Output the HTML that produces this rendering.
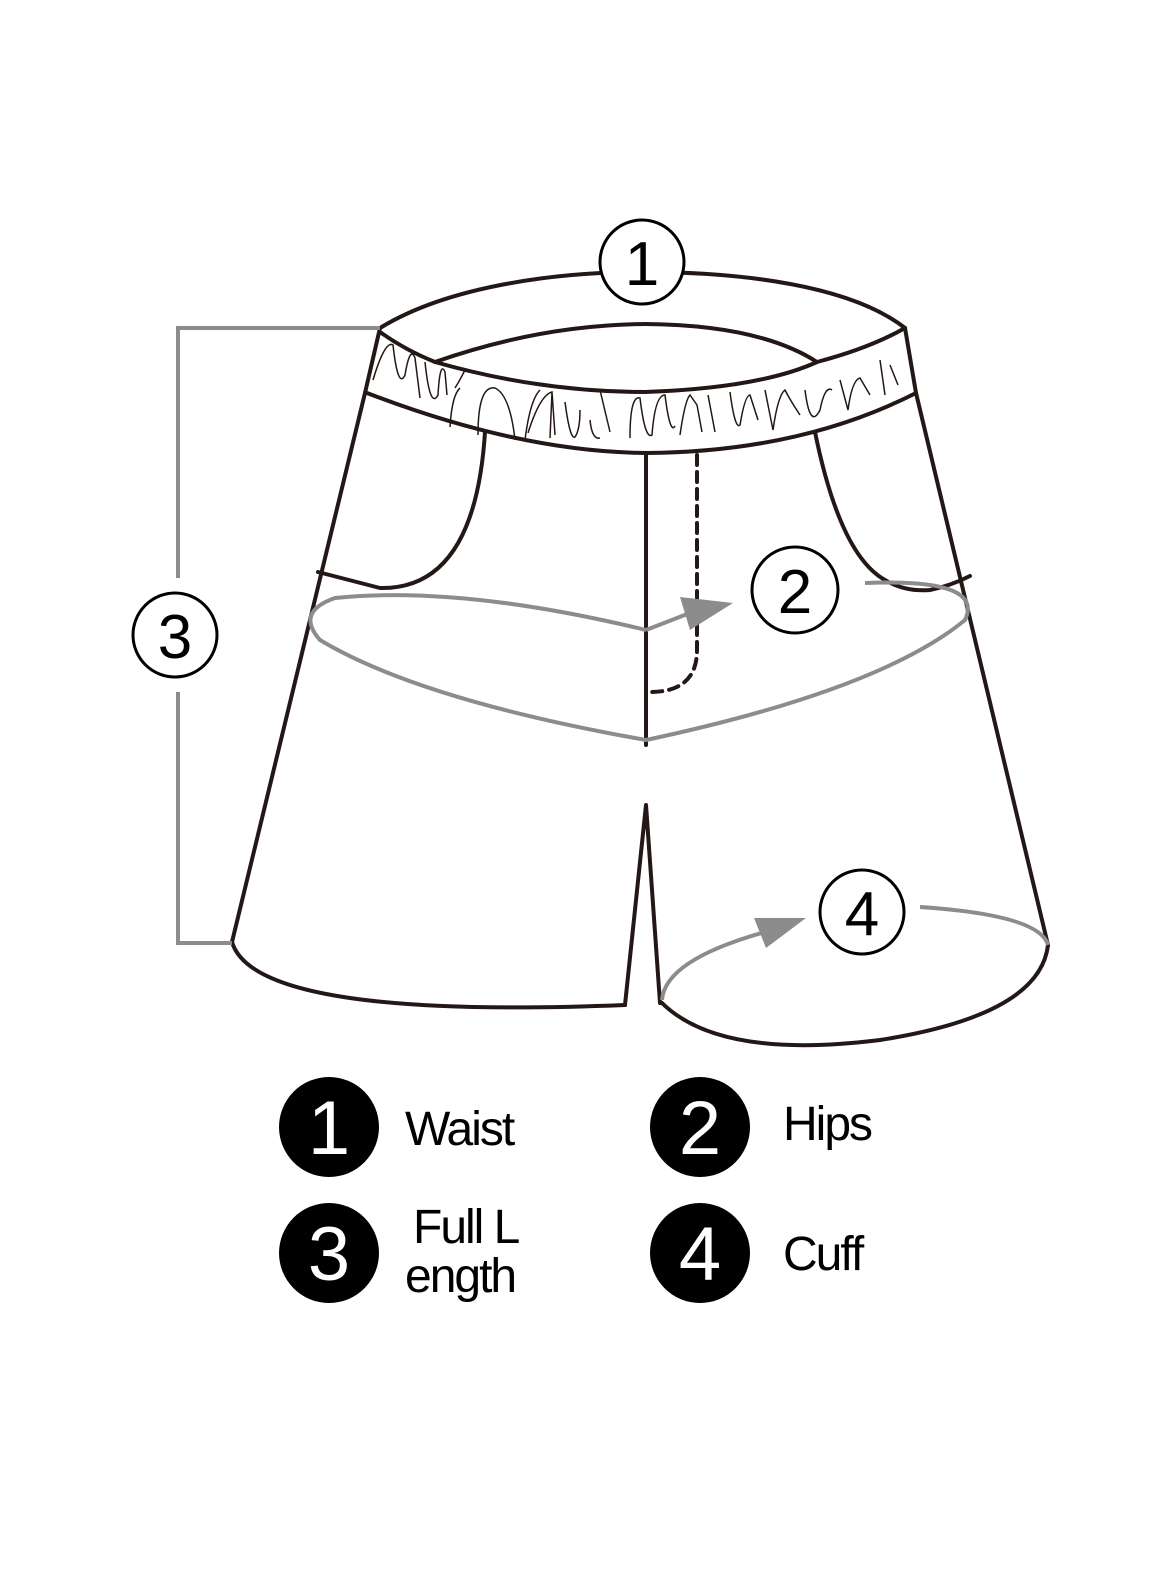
<!DOCTYPE html>
<html><head><meta charset="utf-8"><style>
html,body{margin:0;padding:0;background:#fff;}
svg{display:block;}
text{font-family:"Liberation Sans",sans-serif;}
</style></head><body>
<svg width="1167" height="1584" viewBox="0 0 1167 1584" xmlns="http://www.w3.org/2000/svg">
<g fill="none" stroke="#231815" stroke-width="4" stroke-linecap="round" stroke-linejoin="round">
<!-- waist top outer -->
<path d="M380,328 C450,285 560,272 642,272 C740,272 850,285 905,328"/>
<!-- inner rim front & back -->
<path d="M380,332 Q405,350 435,362 Q540,392 645,392 Q760,388 817,362 Q870,348 905,328"/>
<path d="M435,362 Q540,325 645,324 Q760,325 817,362"/>
<!-- waistband sides -->
<path d="M380,328 L365,393"/>
<path d="M905,328 L916,393"/>
<path d="M367,393 Q520,452 646,453 Q800,452 916,393"/>
<!-- legs -->
<path d="M365,393 L232,942"/>
<path d="M916,393 L1048,945"/>
<path d="M232,942 Q255,1020 625,1005"/>
<path d="M662,1003 Q720,1060 880,1040 Q1040,1015 1048,945"/>
<path d="M625,1005 L646,805 L660,1003"/>
<path d="M646,453 L646,745"/>
<path d="M697,455 L697,650 Q697,692 650,692" stroke-dasharray="10,7"/>
<!-- pockets -->
<path d="M485,432 Q475,590 380,588 L318,572"/>
<path d="M815,432 Q840,555 885,580 Q905,592 930,590 Q950,586 970,576"/>
</g>
<!-- gathers -->
<g fill="none" stroke="#231815" stroke-width="1.5">
<path d="M373,380 Q385,340 393,345 Q398,390 405,375 Q410,345 415,358 L420,398 M425,362 Q430,410 438,395 Q440,360 445,372 L447,395 M455,388 Q460,380 465,370 M450,427 Q452,395 460,388 M478,435 Q478,385 495,388 Q510,395 515,440 M525,440 Q530,400 540,390 M528,433 Q540,395 552,392 L555,435 M552,392 L550,438 M565,402 Q570,440 575,437 Q580,430 580,410 M590,420 Q592,440 600,438 M600,390 L610,432 M630,438 Q630,395 640,398 Q645,440 652,435 Q655,395 665,395 Q670,435 675,426 M680,435 Q685,400 690,395 L697,405 L702,432 M708,395 L715,432 M730,392 Q735,430 740,425 Q745,395 750,395 L758,420 M765,390 L773,430 Q778,395 785,390 Q790,400 800,415 M805,390 Q810,430 820,410 Q825,385 832,390 M840,380 L848,410 Q852,380 860,378 L870,395 M880,360 L885,395 M890,365 L898,385"/>
</g>
<!-- measurement lines -->
<g fill="none" stroke="#8c8c8c" stroke-width="4">
<path d="M380,328 L178,328 L178,578"/>
<path d="M178,692 L178,943 L232,943"/>
<path d="M646,630 Q460,585 335,598 Q295,612 320,640 Q420,700 646,740 Q880,690 965,620 Q985,578 865,583"/>
<path d="M646,630 L695,611"/>
<path d="M920,907 Q1040,915 1048,945"/>
<path d="M662,1000 Q665,960 765,932"/>
</g>
<polygon points="733,603 680,597 690,630" fill="#8c8c8c"/>
<polygon points="806,918 754,918 766,948" fill="#8c8c8c"/>
<!-- outlined number circles -->
<g fill="#fff" stroke="#000" stroke-width="3">
<circle cx="642" cy="262" r="42"/>
<circle cx="175" cy="635" r="42"/>
<circle cx="795" cy="590" r="43"/>
<circle cx="862" cy="912" r="42"/>
</g>
<g font-size="62" text-anchor="middle" fill="#000">
<text x="642" y="285">1</text>
<text x="175" y="658">3</text>
<text x="795" y="613">2</text>
<text x="862" y="935">4</text>
</g>
<!-- legend -->
<g fill="#000">
<circle cx="329" cy="1127" r="50"/>
<circle cx="700" cy="1127" r="50"/>
<circle cx="329" cy="1253" r="50"/>
<circle cx="700" cy="1253" r="50"/>
</g>
<g font-size="76" text-anchor="middle" fill="#fff">
<text x="329" y="1154">1</text>
<text x="700" y="1154">2</text>
<text x="329" y="1280">3</text>
<text x="700" y="1280">4</text>
</g>
<g font-size="48" fill="#000" letter-spacing="-2">
<text x="405" y="1145">Waist</text>
<text x="783" y="1140">Hips</text>
<text x="413" y="1243">Full L</text>
<text x="405" y="1292">ength</text>
<text x="783" y="1270">Cuff</text>
</g>
</svg>
</body></html>
